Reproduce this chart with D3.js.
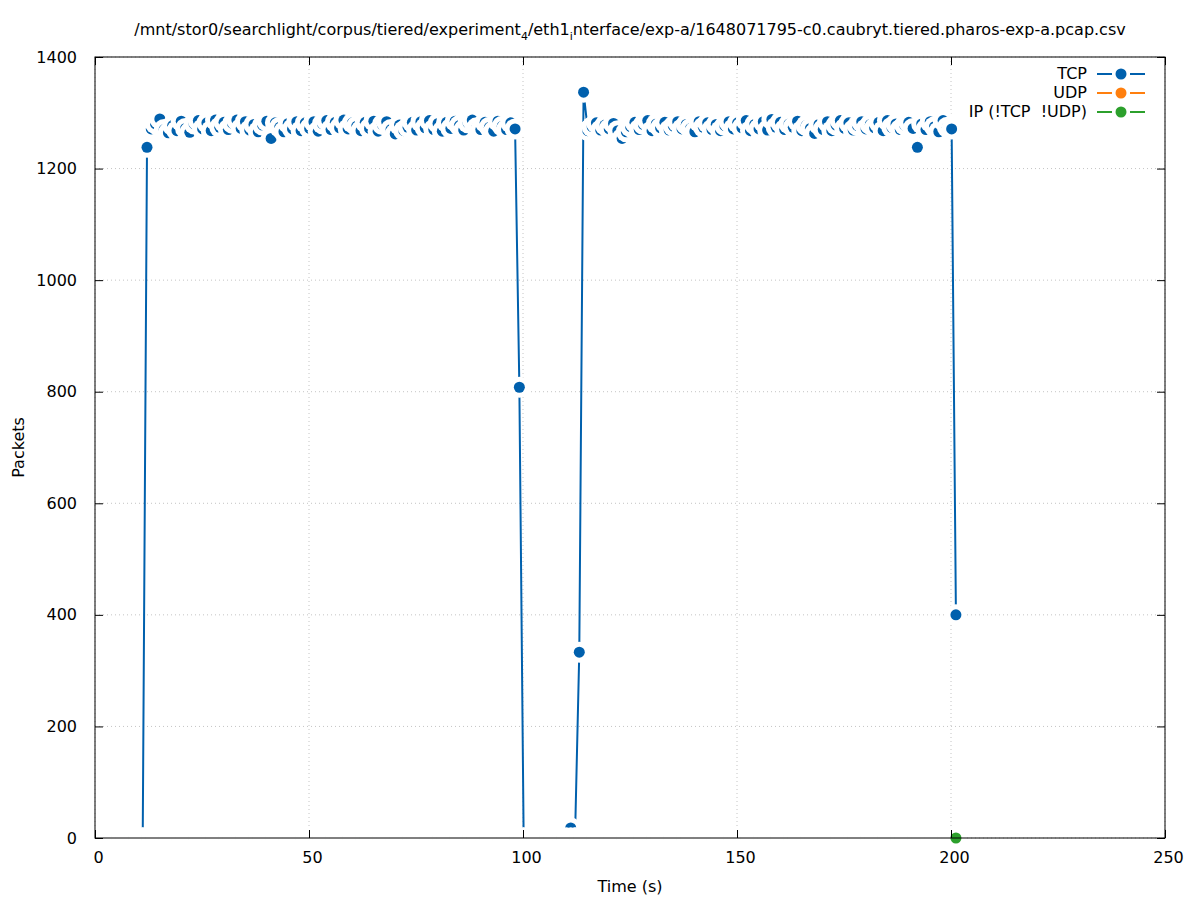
<!DOCTYPE html>
<html>
<head>
<meta charset="utf-8">
<script src="https://cdn.jsdelivr.net/npm/d3@7"></script>
<style>
	body { margin: 0; background: #fff; }
	text { font-family: "DejaVu Sans", sans-serif; font-size: 16px; fill: #000; white-space: pre; }
</style>
</head>
<body>
<div id="chart-area"></div>
<script>
/*
*    packets per second, one sample per second from t0
*/
var t0 = 0.15;

var tcp = [
	0,0,0,0,0,0,0,0,0,0,
	0,0,1238,1271,1280,1289,1270,1264,1277,1268,
	1285,1272,1265,1280,1286,1271,1282,1268,1287,1274,
	1283,1270,1281,1287,1272,1284,1269,1279,1266,1278,
	1285,1254,1282,1274,1266,1281,1271,1284,1268,1282,
	1272,1284,1267,1280,1286,1270,1283,1273,1287,1271,
	1282,1276,1268,1283,1272,1285,1267,1279,1284,1270,
	1262,1278,1268,1274,1283,1269,1284,1273,1286,1270,
	1281,1267,1283,1272,1285,1277,1269,1282,1287,1273,
	1270,1283,1274,1267,1285,1276,1270,1282,1271,808,
	0,0,0,0,0,0,0,0,0,0,
	0,18,0,333,1337,1268,1275,1282,1269,1278,
	1271,1281,1268,1254,1266,1275,1283,1270,1279,1286,
	1268,1280,1273,1283,1269,1276,1284,1271,1279,1272,
	1266,1284,1274,1282,1270,1279,1268,1277,1284,1271,
	1282,1273,1286,1268,1279,1271,1284,1269,1288,1274,
	1283,1270,1280,1274,1285,1268,1277,1272,1263,1279,
	1270,1284,1268,1278,1286,1272,1282,1269,1277,1284,
	1271,1279,1273,1283,1268,1286,1274,1280,1270,1278,
	1283,1272,1238,1280,1270,1284,1275,1266,1286,1274,
	1271,400
];

// 202 samples each, all zero
var udp = [
	0,0,0,0,0,0,0,0,0,0, 0,0,0,0,0,0,0,0,0,0, 0,0,0,0,0,0,0,0,0,0, 0,0,0,0,0,0,0,0,0,0,
	0,0,0,0,0,0,0,0,0,0, 0,0,0,0,0,0,0,0,0,0, 0,0,0,0,0,0,0,0,0,0, 0,0,0,0,0,0,0,0,0,0,
	0,0,0,0,0,0,0,0,0,0, 0,0,0,0,0,0,0,0,0,0, 0,0,0,0,0,0,0,0,0,0, 0,0,0,0,0,0,0,0,0,0,
	0,0,0,0,0,0,0,0,0,0, 0,0,0,0,0,0,0,0,0,0, 0,0,0,0,0,0,0,0,0,0, 0,0,0,0,0,0,0,0,0,0,
	0,0,0,0,0,0,0,0,0,0, 0,0,0,0,0,0,0,0,0,0, 0,0,0,0,0,0,0,0,0,0, 0,0,0,0,0,0,0,0,0,0,
	0,0
];

var ipOther = [
	0,0,0,0,0,0,0,0,0,0, 0,0,0,0,0,0,0,0,0,0, 0,0,0,0,0,0,0,0,0,0, 0,0,0,0,0,0,0,0,0,0,
	0,0,0,0,0,0,0,0,0,0, 0,0,0,0,0,0,0,0,0,0, 0,0,0,0,0,0,0,0,0,0, 0,0,0,0,0,0,0,0,0,0,
	0,0,0,0,0,0,0,0,0,0, 0,0,0,0,0,0,0,0,0,0, 0,0,0,0,0,0,0,0,0,0, 0,0,0,0,0,0,0,0,0,0,
	0,0,0,0,0,0,0,0,0,0, 0,0,0,0,0,0,0,0,0,0, 0,0,0,0,0,0,0,0,0,0, 0,0,0,0,0,0,0,0,0,0,
	0,0,0,0,0,0,0,0,0,0, 0,0,0,0,0,0,0,0,0,0, 0,0,0,0,0,0,0,0,0,0, 0,0,0,0,0,0,0,0,0,0,
	0,0
];

var seriesNames = ["TCP", "UDP", "IP (!TCP  !UDP)"];
var seriesColors = ["#0060ad", "#ff7f0e", "#2ca02c"];
var xTicks = [0, 50, 100, 150, 200, 250];
var yTicks = [0, 200, 400, 600, 800, 1000, 1200, 1400];

var width = 1197, height = 900;
var margin = {top: 57, right: 32, bottom: 62, left: 95};
var mwidth = width - margin.left - margin.right;
var mheight = height - margin.top - margin.bottom;
var ptR = 5.5, gapR = 10.5;

var svg = d3.select("#chart-area").append("svg")
	.attr("width", width)
	.attr("height", height);

var g = svg.append("g")
	.attr("transform", "translate(" + margin.left + ", " + margin.top + ")");

var x = d3.scaleLinear().domain([0, 250]).range([0, mwidth]);
var y = d3.scaleLinear().domain([0, 1400]).range([mheight, 0]);

// dotted grid
g.append("g").selectAll("line").data(xTicks).join("line")
	.attr("x1", (d) => x(d)).attr("x2", (d) => x(d))
	.attr("y1", 0).attr("y2", mheight)
	.attr("stroke", "#c4c4c4").attr("stroke-dasharray", "1,3");
g.append("g").selectAll("line").data(yTicks).join("line")
	.attr("x1", 0).attr("x2", mwidth)
	.attr("y1", (d) => y(d)).attr("y2", (d) => y(d))
	.attr("stroke", "#c4c4c4").attr("stroke-dasharray", "1,3");

var line = d3.line()
	.x((d) => x(d.t))
	.y((d) => y(d.v));

[tcp, udp, ipOther].forEach((vals, i) => {
	var data = vals.map((v, k) => ({t: t0 + k, v: v}));
	var s = g.append("g");
	s.append("path")
		.datum(data)
		.attr("fill", "none")
		.attr("stroke", seriesColors[i])
		.attr("stroke-width", 2)
		.attr("d", line);
	// each point blanks the area round it, then draws its dot
	var pts = s.selectAll("g").data(data).join("g")
		.attr("transform", (d) => "translate(" + x(d.t) + "," + y(d.v) + ")");
	pts.append("circle").attr("r", gapR).attr("fill", "#fff");
	pts.append("circle").attr("r", ptR).attr("fill", seriesColors[i]);
});

// border and inward ticks, mirrored
g.append("rect")
	.attr("width", mwidth).attr("height", mheight)
	.attr("fill", "none").attr("stroke", "#000").attr("stroke-width", 1);

var xAxis = d3.axisBottom(x).tickValues(xTicks).tickSizeInner(-8).tickSizeOuter(0).tickPadding(14).tickFormat(d3.format("d"));
var xTop = d3.axisTop(x).tickValues(xTicks).tickSizeInner(-8).tickSizeOuter(0).tickFormat("");
var yAxis = d3.axisLeft(y).tickValues(yTicks).tickSizeInner(-8).tickSizeOuter(0).tickPadding(18).tickFormat(d3.format("d"));
var yRight = d3.axisRight(y).tickValues(yTicks).tickSizeInner(-8).tickSizeOuter(0).tickFormat("");

g.append("g").attr("class", "x-bottom").attr("transform", "translate(0," + mheight + ")").call(xAxis);
g.append("g").call(xTop);
g.append("g").call(yAxis);
g.append("g").attr("transform", "translate(" + mwidth + ",0)").call(yRight);

g.selectAll(".domain").remove();
g.selectAll(".tick line").attr("stroke", "#000");
g.selectAll(".tick text")
	.attr("font-family", "DejaVu Sans, sans-serif")
	.attr("font-size", "16px")
	.attr("fill", "#000");
g.selectAll(".x-bottom .tick text").attr("dx", 3);

// axis labels
g.append("text")
	.attr("x", mwidth / 2)
	.attr("y", mheight + 54)
	.attr("text-anchor", "middle")
	.text("Time (s)");

g.append("text")
	.attr("transform", "rotate(-90)")
	.attr("x", -mheight / 2)
	.attr("y", -71)
	.attr("text-anchor", "middle")
	.text("Packets");

// title, gnuplot read the underscores as subscripts
var title = svg.append("text")
	.attr("x", margin.left + mwidth / 2)
	.attr("y", 35)
	.attr("text-anchor", "middle");
title.append("tspan").text("/mnt/stor0/searchlight/corpus/tiered/experiment");
title.append("tspan").attr("dy", 5).attr("font-size", "11px").text("4");
title.append("tspan").attr("dy", -5).text("/eth1");
title.append("tspan").attr("dy", 5).attr("font-size", "11px").text("i");
title.append("tspan").attr("dy", -5).text("nterface/exp-a/1648071795-c0.caubryt.tiered.pharos-exp-a.pcap.csv");

// key
var key = svg.append("g").selectAll("g").data(seriesNames).join("g")
	.attr("transform", (d, i) => "translate(0," + (74 + i * 19) + ")");
key.append("text")
	.attr("x", 1087)
	.attr("y", 5)
	.attr("text-anchor", "end")
	.text((d) => d);
key.append("line")
	.attr("x1", 1097).attr("x2", 1112)
	.attr("stroke", (d, i) => seriesColors[i]).attr("stroke-width", 2);
key.append("line")
	.attr("x1", 1130).attr("x2", 1145)
	.attr("stroke", (d, i) => seriesColors[i]).attr("stroke-width", 2);
key.append("circle")
	.attr("cx", 1121)
	.attr("r", ptR)
	.attr("fill", (d, i) => seriesColors[i]);
</script>
</body>
</html>
